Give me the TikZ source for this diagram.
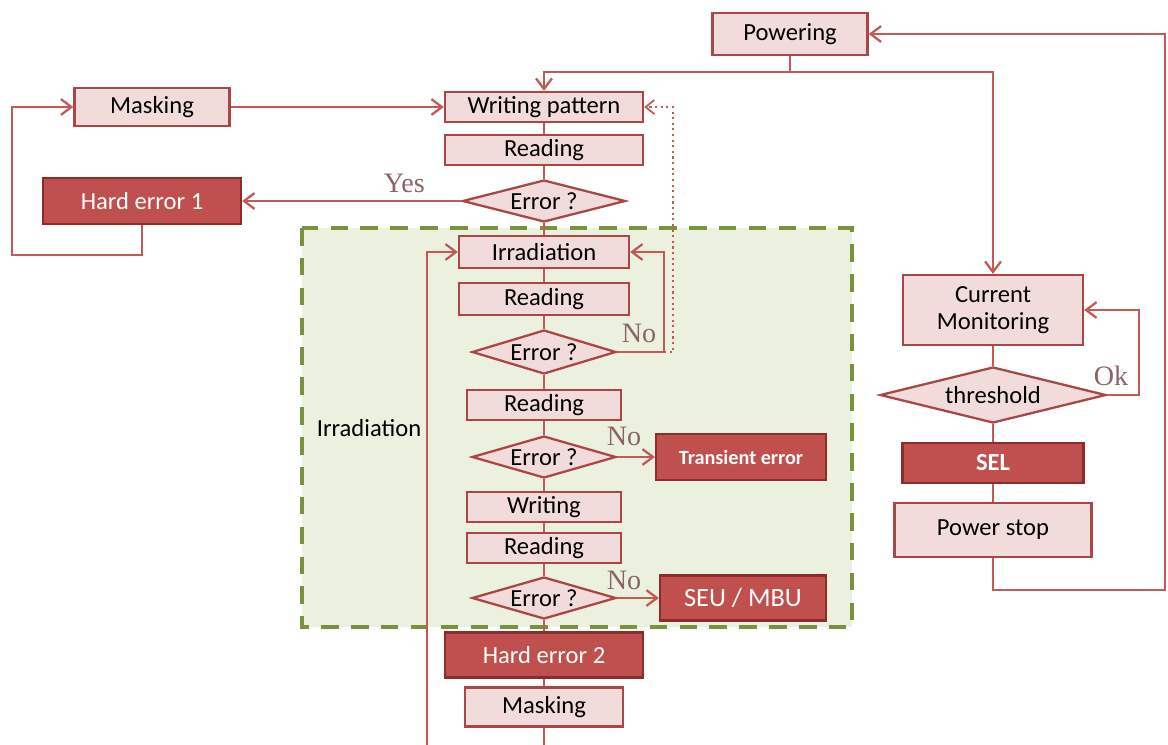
\documentclass[tikz,border=0pt]{standalone}
\usepackage{fontspec}
\setmainfont{Carlito}
\newfontfamily\lblfont{Liberation Serif}
\usetikzlibrary{shapes.geometric,arrows.meta}
\definecolor{boxfill}{HTML}{F2DCDB}
\definecolor{boxborder}{HTML}{A84846}
\definecolor{darkfill}{HTML}{C0504D}
\definecolor{darkborder}{HTML}{8C2D2B}
\definecolor{linecol}{HTML}{C45A57}
\definecolor{greenfill}{HTML}{EBF1DE}
\definecolor{greenborder}{HTML}{77933C}
\definecolor{lblcol}{HTML}{8B6565}
\tikzset{
  sz/.style 2 args={minimum width=#1*0.02cm, minimum height=#2*0.02cm},
  box/.style={draw=boxborder, fill=boxfill, line width=1.3pt, inner sep=0pt, rectangle,
    font=\fontsize{14}{16}\selectfont, text=black},
  dbox/.style={draw=darkborder, fill=darkfill, line width=1.3pt, inner sep=0pt, rectangle,
    font=\fontsize{14}{16}\selectfont, text=white},
  dia/.style={diamond, draw=boxborder, fill=boxfill, line width=1.3pt, inner sep=0pt,
    font=\fontsize{14}{16}\selectfont, text=black},
  ln/.style={draw=linecol, line width=1.4pt},
  arr/.style={ln, -{Straight Barb[length=6pt,width=9pt,line width=1.3pt]}},
  lbl/.style={font=\lblfont\fontsize{16}{18}\selectfont, text=lblcol, inner sep=0pt},
}
\begin{document}
\begin{tikzpicture}[x=0.02cm,y=-0.02cm]
\useasboundingbox (0,0) rectangle (1168,744);
\clip (0,0) rectangle (1168,744);
\fill[white] (0,0) rectangle (1168,744);
% irradiation region
\draw[fill=greenfill, draw=greenborder, line width=2.2pt, dash pattern=on 10pt off 7pt]
  (302,228) rectangle (852,627);
\node[font=\fontsize{14}{16}\selectfont, inner sep=0pt] (irrlbl) at (369,428) {Irradiation};

% nodes
\node[box, sz={155}{42}] (pow) at (790,34) {Powering};
\node[box, sz={155}{38}] (mask1) at (152,107) {Masking};
\node[box, sz={198}{30}] (wp) at (544,107) {Writing pattern};
\node[box, sz={198}{30}] (rd1) at (544,150) {Reading};
\node[dia, sz={163}{42}, aspect=3.88] (er1) at (544,201) {Error ?};
\node[dbox, sz={198}{46}] (he1) at (142,201) {Hard error 1};
\node[box, sz={170}{32}] (irr) at (544,252) {Irradiation};
\node[box, sz={170}{32}] (rd2) at (544,299) {Reading};
\node[dia, sz={144}{44}, aspect=3.27] (er2) at (544,352) {Error ?};
\node[box, sz={154}{30}] (rd3) at (544,405) {Reading};
\node[dia, sz={144}{42}, aspect=3.43] (er3) at (544,457) {Error ?};
\node[dbox, sz={170}{46}, font=\fontsize{11.5}{13}\selectfont\bfseries] (te) at (741,457) {Transient error};
\node[box, sz={154}{30}] (wr) at (544,507) {Writing};
\node[box, sz={154}{30}] (rd4) at (544,548) {Reading};
\node[dia, sz={144}{42}, aspect=3.43] (er4) at (544,598) {Error ?};
\node[dbox, sz={166}{45}, font=\fontsize{15}{17}\selectfont] (seu) at (743,598) {SEU / MBU};
\node[dbox, sz={198}{45}] (he2) at (544,655) {Hard error 2};
\node[box, sz={158}{39}] (mask2) at (544,707) {Masking};
\node[box, sz={180}{70}, align=center] (cm) at (993,310) {Current\\[-1pt]Monitoring};
\node[dia, sz={226}{56}, aspect=4.04] (th) at (993,395) {threshold};
\node[dbox, sz={181}{40}, font=\fontsize{14}{16}\selectfont\bfseries] (sel) at (993,463) {SEL};
\node[box, sz={197}{54}] (ps) at (993,530) {Power stop};

% coordinates
\coordinate (pj) at (790,72);
\coordinate (l1) at (12,255);
\coordinate (l2) at (12,107);
\coordinate (e2r) at (664,352);
\coordinate (e2d) at (673,352);
\coordinate (ok1) at (1139,395);
\coordinate (r1) at (1165,590);
\coordinate (b1) at (544,780);
\coordinate (b2) at (427,780);

% vertical chain
\draw[ln] (wp) -- (rd1);
\draw[ln] (rd1) -- (er1);
\draw[ln] (er1) -- (irr);
\draw[ln] (irr) -- (rd2);
\draw[ln] (rd2) -- (er2);
\draw[ln] (er2) -- (rd3);
\draw[ln] (rd3) -- (er3);
\draw[ln] (er3) -- (wr);
\draw[ln] (wr) -- (rd4);
\draw[ln] (rd4) -- (er4);
\draw[ln] (er4) -- (he2);
\draw[ln] (he2) -- (mask2);
\draw[ln] (cm) -- (th);
\draw[ln] (th) -- (sel);
\draw[ln] (sel) -- (ps);

% arrows
\draw[arr] (mask1) -- (wp);
\draw[arr] (er1.west) -- node[lbl, pos=0.26, above=4pt] {Yes} (he1.east);
\draw[arr] (he1.south) |- (l1) -- (l2) -- (mask1.west);
\draw[ln] (pow.south) -- (pj);
\draw[arr] (pj) -| (wp.north);
\draw[arr] (pj) -| (cm.north);
\draw[arr] (ps.south) |- (r1) |- (pow.east);
\draw[arr] (th.east) -- (ok1) |- (cm.east);
\node[lbl] (oklbl) at (1111,376) {Ok};
\draw[arr] (er2.east) -- (e2r) |- (irr.east);
\node[lbl] (no1) at (639,333) {No};
\draw[linecol, line width=1.2pt, dotted, -{Straight Barb[length=5pt,width=8pt,line width=1pt]}]
  (e2r) -- (e2d) |- (wp.east);
\draw[arr] (er3.east) -- (te.west);
\node[lbl] (no2) at (624,436) {No};
\draw[arr] (er4.east) -- (seu.west);
\node[lbl] (no3) at (624,580) {No};
\draw[arr] (mask2.south) -- (b1) -- (b2) |- (irr.west);
\end{tikzpicture}
\end{document}
